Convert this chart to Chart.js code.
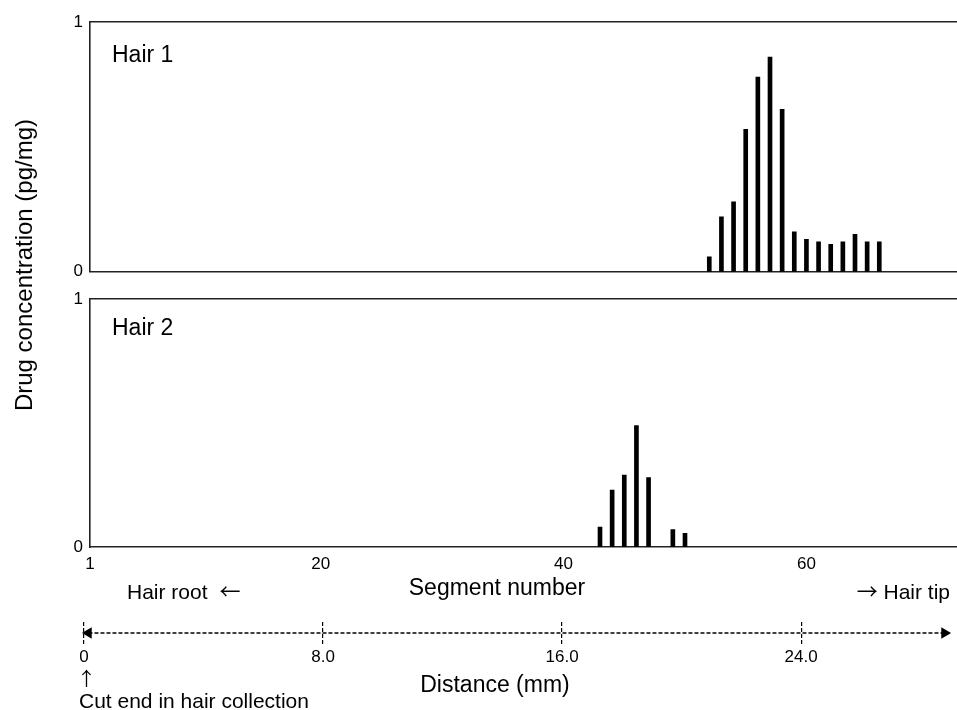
<!DOCTYPE html>
<html>
<head>
<meta charset="utf-8">
<script src="https://cdn.jsdelivr.net/npm/chart.js@4/dist/chart.umd.min.js"></script>
<style>
  html, body { margin: 0; padding: 0; background: #fff; }
  body { width: 957px; height: 710px; position: relative; overflow: hidden;
         font-family: "Liberation Sans", Arial, sans-serif; color: #000; }
  canvas { position: absolute; left: 0; }
  .lbl { position: absolute; white-space: nowrap; line-height: 1; }
  .arr { font-family: "Noto Sans CJK JP", "Liberation Sans", sans-serif; }
</style>
</head>
<body>
<canvas id="hair1" width="957" height="289" style="top:0"></canvas>
<canvas id="hair2" width="957" height="294" style="top:282px"></canvas>
<canvas id="dist" width="957" height="72" style="top:600px"></canvas>

<div class="lbl" style="left:-126px;top:253px;width:300px;text-align:center;font-size:24px;transform:rotate(-90deg)">Drug concentration (pg/mg)</div>
<div class="lbl" style="left:112px;top:43px;font-size:23px">Hair 1</div>
<div class="lbl" style="left:112px;top:316px;font-size:23px">Hair 2</div>
<div class="lbl" style="left:127px;top:580px;font-size:21px">Hair root<span class="arr" style="margin-left:12px">←</span></div>
<div class="lbl" style="left:347px;top:576px;width:300px;text-align:center;font-size:23px">Segment number</div>
<div class="lbl" style="right:7px;top:580px;font-size:21px"><span class="arr">→</span> Hair tip</div>
<div class="lbl" style="left:345px;top:673px;width:300px;text-align:center;font-size:23px">Distance (mm)</div>
<div class="lbl arr" style="left:77px;top:668px;font-size:19px">↑</div>
<div class="lbl" style="left:79px;top:690px;font-size:21px">Cut end in hair collection</div>

<script>
// segment numbers and concentrations (pg/mg)
const hair1Segments = [52, 53, 54, 55, 56, 57, 58, 59, 60, 61, 62, 63, 64, 65, 66];
const hair1Values   = [0.06, 0.22, 0.28, 0.57, 0.78, 0.86, 0.65, 0.16, 0.13, 0.12, 0.11, 0.12, 0.15, 0.12, 0.12];
const hair2Segments = [43, 44, 45, 46, 47, 49, 50];
const hair2Values   = [0.08, 0.23, 0.29, 0.49, 0.28, 0.07, 0.055];

const segmentTicks = [1, 20, 40, 60];
const segmentRange = [1, 72.4];
const concTicks = [0, 1];
const distanceTicks = [0, 8, 16, 24];
const distanceRange = [0, 29];
const distanceArrow = [0.15, 28.8];

Chart.defaults.font.family = '"Liberation Sans", Arial, sans-serif';
Chart.defaults.color = '#000';

const LINE = '#222';

function toPoints(xs, ys) {
    return xs.map((x, i) => ({ x: x, y: ys[i] }));
}

function fixedTicks(values) {
    return function (scale) {
        scale.ticks = values.map(v => ({ value: v }));
    };
}

// one panel per hair
function makePanel(id, xs, ys, padTop, bottomSpace, showSegLabels) {
    new Chart(document.getElementById(id), {
        type: 'bar',
        data: {
            datasets: [{
                data: toPoints(xs, ys),
                backgroundColor: '#000',
                barThickness: 4
            }]
        },
        options: {
            responsive: false,
            animation: false,
            layout: { padding: { top: padTop, left: 0, right: 0, bottom: 0 } },
            plugins: { legend: { display: false }, tooltip: { enabled: false } },
            scales: {
                x: {
                    type: 'linear',
                    offset: false,
                    min: segmentRange[0],
                    max: segmentRange[1],
                    afterBuildTicks: fixedTicks(segmentTicks),
                    afterFit: s => { s.height = bottomSpace; },
                    grid: { display: false, drawTicks: false },
                    border: { display: true, color: LINE, width: 1.6 },
                    ticks: { display: showSegLabels, padding: 7, font: { size: 17 } }
                },
                xTop: {
                    type: 'linear',
                    position: 'top',
                    min: segmentRange[0],
                    max: segmentRange[1],
                    afterFit: s => { s.height = 0; },
                    grid: { display: false, drawTicks: false },
                    border: { display: true, color: LINE, width: 1.6 },
                    ticks: { display: false }
                },
                y: {
                    min: 0,
                    max: 1,
                    afterBuildTicks: fixedTicks(concTicks),
                    afterFit: s => { s.width = 90; },
                    grid: { display: false, drawTicks: false },
                    border: { display: true, color: LINE, width: 1.6 },
                    ticks: { padding: 7, font: { size: 17 } }
                }
            }
        }
    });
}

makePanel('hair1', hair1Segments, hair1Values, 22, 10, false);
makePanel('hair2', hair2Segments, hair2Values, 16, 29, true);

// distance axis (mm) below the segment axis
new Chart(document.getElementById('dist'), {
    type: 'line',
    data: {
        datasets: [{
            data: distanceArrow.map(x => ({ x: x, y: 0 })),
            borderColor: '#000',
            borderWidth: 1.5,
            borderDash: [4, 2],
            pointStyle: 'triangle',
            pointRotation: [-90, 90],
            pointRadius: 5,
            pointBackgroundColor: '#000',
            pointBorderColor: '#000',
            tension: 0
        }]
    },
    options: {
        responsive: false,
        animation: false,
        clip: false,
        layout: { padding: { top: 22, left: 84, right: 0, bottom: 0 } },
        plugins: { legend: { display: false }, tooltip: { enabled: false } },
        scales: {
            x: {
                type: 'linear',
                min: distanceRange[0],
                max: distanceRange[1],
                afterBuildTicks: fixedTicks(distanceTicks),
                afterFit: s => { s.height = 28; },
                grid: { display: true, drawTicks: false, color: '#000', lineWidth: 1.2,
                        tickBorderDash: [4, 2] },
                border: { display: false, dash: [4, 2] },
                ticks: {
                    padding: 3,
                    font: { size: 17 },
                    callback: v => v === 0 ? '0' : v.toFixed(1)
                }
            },
            y: { display: false, min: -1, max: 1 }
        }
    }
});
</script>
</body>
</html>
